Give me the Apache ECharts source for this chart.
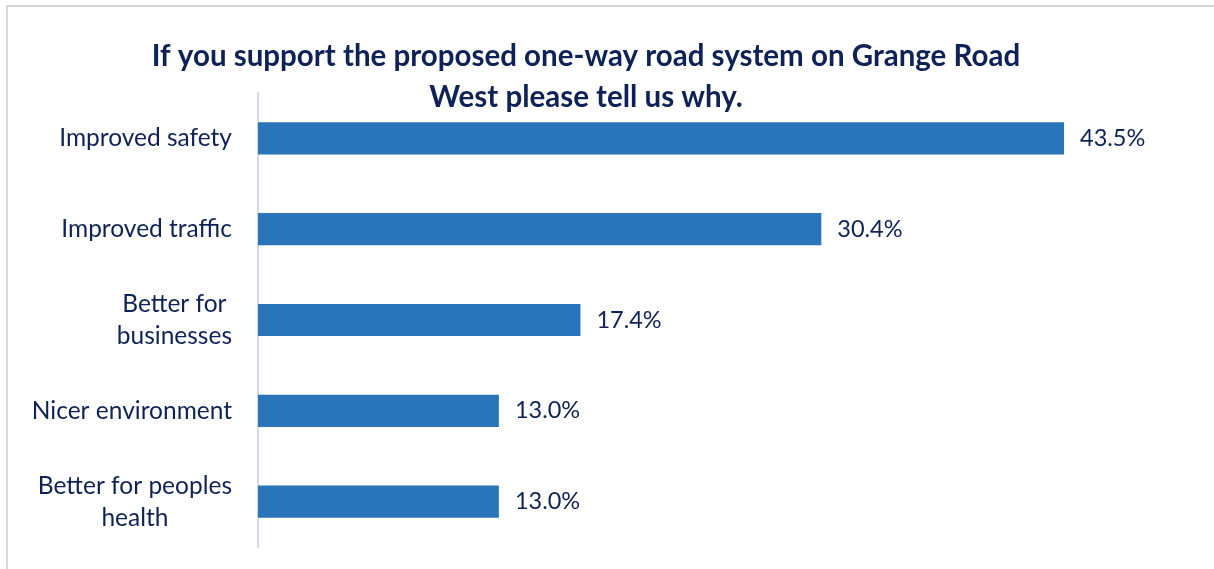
<!DOCTYPE html>
<html>
<head>
<meta charset="utf-8">
<style>
  html, body { margin: 0; padding: 0; background: #ffffff; }
  #chart { width: 1214px; height: 569px; }
</style>
<script src="https://cdn.jsdelivr.net/npm/echarts@6/dist/echarts.min.js"></script>
</head>
<body>
<div id="chart"></div>
<script>
// Survey reasons given by supporters of the one-way scheme
const reasons = [
  'Improved safety',
  'Improved traffic',
  'Better for\nbusinesses',
  'Nicer environment',
  'Better for peoples\nhealth'
];
const shares = [43.5, 30.4, 17.4, 13.0, 13.0];

const titleLines = [
  'If you support the proposed one-way road system on Grange Road',
  'West please tell us why.'
];

const navy = '#0f2257';
const barBlue = '#2a74b9';
const fontFamily = 'Lato, "Open Sans", sans-serif';

const chart = echarts.init(document.getElementById('chart'), null, { renderer: 'canvas' });

chart.setOption({
  animation: false,
  backgroundColor: '#ffffff',
  graphic: [
    {
      type: 'rect',
      shape: { x: 7, y: 6, width: 1400, height: 800 },
      style: { fill: 'none', stroke: '#d6d6d6', lineWidth: 2 },
      silent: true,
      z: -10
    },
    {
      type: 'text',
      x: 586,
      y: 35.5,
      style: {
        text: titleLines.join('\n'),
        align: 'center',
        verticalAlign: 'top',
        fill: navy,
        font: 'bold 29.5px ' + fontFamily,
        lineHeight: 41
      }
    }
  ],
  grid: {
    left: 258,
    right: 29.5,
    top: 93,
    bottom: 22,
    containLabel: false
  },
  xAxis: {
    type: 'value',
    min: 0,
    max: 50,
    show: false
  },
  yAxis: {
    type: 'category',
    data: reasons,
    inverse: true,
    axisLine: { show: true, lineStyle: { color: '#d5d5ee', width: 2 } },
    axisTick: { show: false },
    splitLine: { show: false },
    axisLabel: {
      margin: 26,
      align: 'right',
      color: navy,
      fontFamily: fontFamily,
      fontSize: 24.5,
      lineHeight: 32,
      formatter: function (v) {
        return v.split('\n').map(function (line) { return '{c|' + line + '}'; }).join('\n');
      },
      rich: {
        c: { align: 'center', color: navy, fontFamily: fontFamily, fontSize: 24.5, lineHeight: 32 }
      }
    }
  },
  series: [
    {
      type: 'bar',
      data: shares,
      barCategoryGap: '64.5%',
      itemStyle: { color: barBlue },
      label: {
        show: true,
        position: 'right',
        distance: 16,
        color: navy,
        fontFamily: fontFamily,
        fontSize: 23.5,
        formatter: function (p) { return p.value.toFixed(1) + '%'; }
      }
    }
  ]
});
</script>
</body>
</html>
